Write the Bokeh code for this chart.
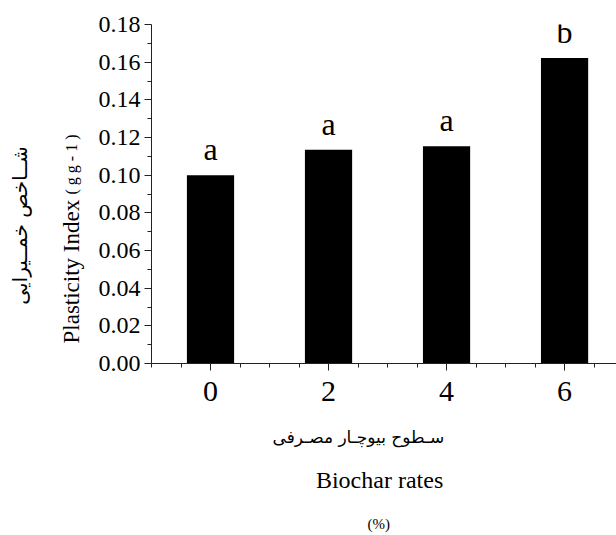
import numpy as np
from bokeh.plotting import figure
from bokeh.layouts import row, column
from bokeh.models import FixedTicker, NumeralTickFormatter, Range1d, ColumnDataSource
from bokeh.core.properties import value
from bokeh.embed import file_html
from bokeh.resources import INLINE

# ---- data ----
rates = [0, 2, 4, 6]
plasticity_index = [0.100, 0.1135, 0.1153, 0.1622]
letters = ["a", "a", "a", "b"]
y_ticks = [0.00, 0.02, 0.04, 0.06, 0.08, 0.10, 0.12, 0.14, 0.16, 0.18]
x_ticks = [0, 2, 4, 6]

SERIF = "Liberation Serif"
ARABIC = "DejaVu Sans"

W, H = 616, 535
LEFT_W = 90          # width of the left text strip
MAIN_H = 413         # height of the main chart figure
BASE_FIX = 7         # empirical baseline correction (px)
X_FIX = 28           # empirical horizontal correction for the bottom strip (px)


def blank(width, height, xr, yr):
    f = figure(width=width, height=height, output_backend="svg", toolbar_location=None,
               x_range=Range1d(*xr), y_range=Range1d(*yr),
               x_axis_location=None, y_axis_location=None, min_border=0)
    f.outline_line_color = None
    f.grid.visible = False
    f.background_fill_color = "white"
    f.border_fill_color = "white"
    return f


# ---- main chart ----
p = figure(width=W - LEFT_W, height=MAIN_H, output_backend="svg", toolbar_location=None,
           x_range=Range1d(-1, 6.88), y_range=Range1d(0, 0.18),
           min_border_left=151 - LEFT_W, min_border_right=0,
           min_border_top=24, min_border_bottom=MAIN_H - 363)
p.outline_line_color = None
p.xgrid.visible = False
p.ygrid.visible = False
p.background_fill_color = "white"
p.border_fill_color = "white"

src = ColumnDataSource(dict(x=rates, top=plasticity_index, lab=letters))
p.vbar(x="x", top="top", width=0.8, source=src, fill_color="black", line_color=None)
p.text(x="x", y="top", text="lab", source=src, y_offset=-26,
       text_align="center", text_baseline="alphabetic",
       text_font=value(SERIF), text_font_size="32px", text_color="black")

p.yaxis.ticker = FixedTicker(ticks=y_ticks,
                             minor_ticks=list(np.round(np.arange(0.01, 0.18, 0.02), 3)))
p.yaxis.formatter = NumeralTickFormatter(format="0.00")
p.xaxis.ticker = FixedTicker(ticks=x_ticks, minor_ticks=list(np.arange(-1, 7.01, 0.5)))
for ax in (p.xaxis, p.yaxis):
    ax.axis_line_color = "#222222"
    ax.axis_line_width = 1
    ax.major_tick_line_color = "#222222"
    ax.minor_tick_line_color = "#222222"
    ax.major_tick_out = 7
    ax.major_tick_in = 0
    ax.minor_tick_out = 4
    ax.minor_tick_in = 0
    ax.major_label_text_font = SERIF
    ax.major_label_text_color = "black"
p.yaxis.major_label_text_font_size = "24px"
p.yaxis.major_label_standoff = 4
p.xaxis.major_label_text_font_size = "30px"
p.xaxis.major_label_standoff = 11

# ---- left strip: rotated y-axis titles ----
left = blank(LEFT_W, H, (0, LEFT_W), (0, H))
left.text(x=[78 - BASE_FIX], y=[H - 343], text=["Plasticity Index"], angle=np.pi / 2,
          text_align="left", text_baseline="alphabetic",
          text_font=value(SERIF), text_font_size="23px", text_color="black")
left.text(x=[78 - BASE_FIX], y=[H - 194], text=["( g   g  - 1 )"], angle=np.pi / 2,
          text_align="left", text_baseline="alphabetic",
          text_font=value(SERIF), text_font_size="16px", text_color="black")
left.text(x=[26 - BASE_FIX], y=[H - 225], text=["شــاخص خمــیرایی"], angle=np.pi / 2,
          text_align="center", text_baseline="alphabetic",
          text_font=value(ARABIC), text_font_size="20px", text_color="black")

# ---- bottom strip: x-axis titles ----
BOT_H = H - MAIN_H
bottom = blank(W - LEFT_W, BOT_H, (LEFT_W, W), (0, BOT_H))
bottom.text(x=[352 - X_FIX], y=[H - 443 + BASE_FIX], text=["سـطوح بیوچـار مصـرفی"],
            text_align="center", text_baseline="alphabetic",
            text_font=value(ARABIC), text_font_size="17px", text_color="black")
bottom.text(x=[376 - X_FIX], y=[H - 486 + BASE_FIX], text=["Biochar rates"],
            text_align="center", text_baseline="alphabetic",
            text_font=value(SERIF), text_font_size="24px", text_color="black")
bottom.text(x=[375 - X_FIX], y=[H - 530 + BASE_FIX], text=["(%)"],
            text_align="center", text_baseline="alphabetic",
            text_font=value(SERIF), text_font_size="15px", text_color="black")

layout = row(left, column(p, bottom, spacing=0), spacing=0)
open("out.html", "w").write(file_html(layout, INLINE))
